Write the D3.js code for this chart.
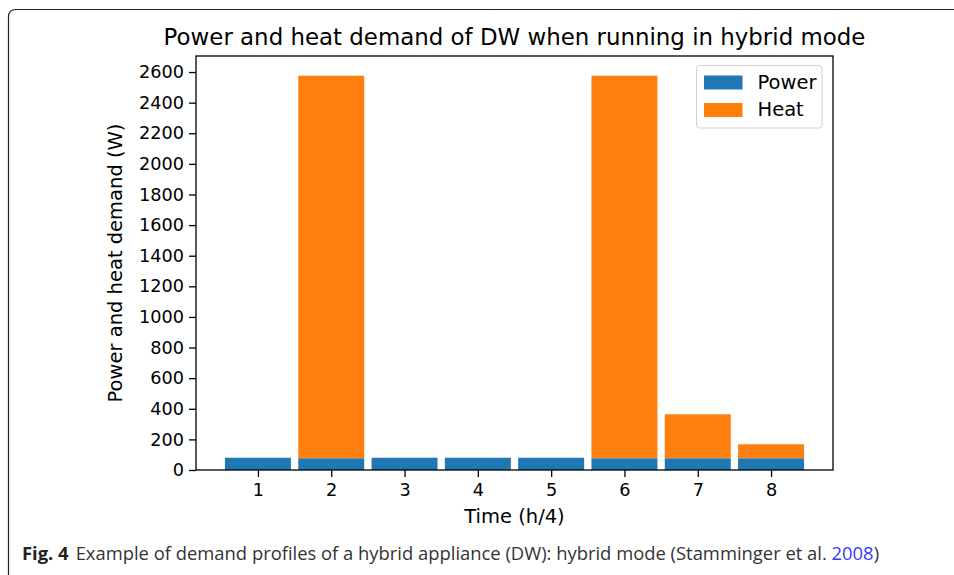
<!DOCTYPE html>
<html>
<head>
<meta charset="utf-8">
<script src="https://cdn.jsdelivr.net/npm/d3@7"></script>
<style>
  body { margin: 0; background: #fff; }
  svg { display: block; }
</style>
</head>
<body>
<div class="content"></div>
<script>
// time slots (h/4)
var slots = [1, 2, 3, 4, 5, 6, 7, 8];
var power = [80, 76, 80, 80, 80, 76, 76, 76];
var heat = [0, 2500, 0, 0, 0, 2500, 288, 92];
var yTicks = [0, 200, 400, 600, 800, 1000, 1200, 1400, 1600, 1800, 2000, 2200, 2400, 2600];

var svgWidth = 954, svgHeight = 575;
var svg = d3.select(".content")
  .append("svg")
  .attr("width", svgWidth)
  .attr("height", svgHeight);

// figure frame
svg.append("path")
  .attr("d", "M8.5,580 L8.5,17 Q8.5,9.5 16,9.5 L960,9.5")
  .attr("fill", "none")
  .attr("stroke", "#222")
  .attr("stroke-width", 1.2);

var margin = {left: 196, top: 56, right: 121, bottom: 105},
  width = svgWidth - margin.left - margin.right,
  height = svgHeight - margin.top - margin.bottom;

var g = svg.append("g")
  .attr("transform", "translate(" + margin.left + "," + margin.top + ")");

var totals = slots.map(function(d, i) { return power[i] + heat[i]; });
var yMax = d3.max(totals) * 1.05;

var x = d3.scaleLinear().domain([0.55 - 0.395, 8.45 + 0.395]).range([0, width]);
var y = d3.scaleLinear().domain([0, yMax]).range([height, 0]);
var barW = 0.9;

var font = "DejaVu Sans";
var tickFs = "17.7px", labelFs = "19.5px";

// heat bars stacked on power
g.append("g").selectAll("rect")
  .data(slots)
  .enter().append("rect")
  .attr("x", function(d) { return x(d - barW / 2); })
  .attr("width", function(d) { return x(d + barW / 2) - x(d - barW / 2); })
  .attr("y", function(d, i) { return y(power[i] + heat[i]); })
  .attr("height", function(d, i) { return y(power[i]) - y(power[i] + heat[i]); })
  .attr("fill", "#ff7f0e");

g.append("g").selectAll("rect")
  .data(slots)
  .enter().append("rect")
  .attr("x", function(d) { return x(d - barW / 2); })
  .attr("width", function(d) { return x(d + barW / 2) - x(d - barW / 2); })
  .attr("y", function(d, i) { return y(power[i]); })
  .attr("height", function(d, i) { return height - y(power[i]); })
  .attr("fill", "#1f77b4");

// axes
var axisX = g.append("g")
  .attr("transform", "translate(0," + height + ")")
  .call(d3.axisBottom(x).tickValues(slots).tickFormat(d3.format("d")).tickSize(7).tickPadding(6));
var axisY = g.append("g")
  .call(d3.axisLeft(y).tickValues(yTicks).tickFormat(d3.format("d")).tickSize(7).tickPadding(5));

[axisX, axisY].forEach(function(a) {
  a.attr("font-family", font).attr("font-size", tickFs);
  a.select(".domain").remove();
  a.selectAll("line").attr("stroke", "#000").attr("stroke-width", 1.3);
  a.selectAll("text").attr("fill", "#000");
});

// frame of the axes
g.append("rect")
  .attr("width", width)
  .attr("height", height)
  .attr("fill", "none")
  .attr("stroke", "#000")
  .attr("stroke-width", 1.3);

// title and labels
svg.append("text")
  .attr("x", margin.left + width / 2)
  .attr("y", 45)
  .attr("text-anchor", "middle")
  .attr("font-family", font)
  .attr("font-size", "22.9px")
  .text("Power and heat demand of DW when running in hybrid mode");

svg.append("text")
  .attr("x", margin.left + width / 2)
  .attr("y", 523)
  .attr("text-anchor", "middle")
  .attr("font-family", font)
  .attr("font-size", labelFs)
  .text("Time (h/4)");

svg.append("text")
  .attr("transform", "translate(122," + (margin.top + height / 2) + ") rotate(-90)")
  .attr("text-anchor", "middle")
  .attr("font-family", font)
  .attr("font-size", labelFs)
  .text("Power and heat demand (W)");

// legend
var legend = g.append("g").attr("transform", "translate(" + (width - 136.5) + ",9.5)");
legend.append("rect")
  .attr("width", 125.5)
  .attr("height", 62.5)
  .attr("rx", 3)
  .attr("fill", "#fff")
  .attr("stroke", "#d0d0d0");
var legendItems = [{name: "Power", color: "#1f77b4"}, {name: "Heat", color: "#ff7f0e"}];
legendItems.forEach(function(d, i) {
  legend.append("rect")
    .attr("x", 7.5)
    .attr("y", 10 + i * 27.5)
    .attr("width", 38.5)
    .attr("height", 14)
    .attr("fill", d.color);
  legend.append("text")
    .attr("x", 61)
    .attr("y", 23 + i * 27)
    .attr("font-family", font)
    .attr("font-size", labelFs)
    .text(d.name);
});

// caption
var cap = svg.append("text")
  .attr("x", 22)
  .attr("y", 560)
  .attr("fill", "#333")
  .attr("font-family", "Open Sans")
  .attr("font-size", "18.4px");
cap.append("tspan").attr("font-weight", "bold").attr("fill", "#222").text("Fig. 4");
cap.append("tspan").attr("dx", 7).text("Example of demand profiles of a hybrid appliance (DW): hybrid mode (Stamminger et al. ");
cap.append("tspan").attr("fill", "#3a3aff").text("2008");
cap.append("tspan").text(")");
</script>
</body>
</html>
